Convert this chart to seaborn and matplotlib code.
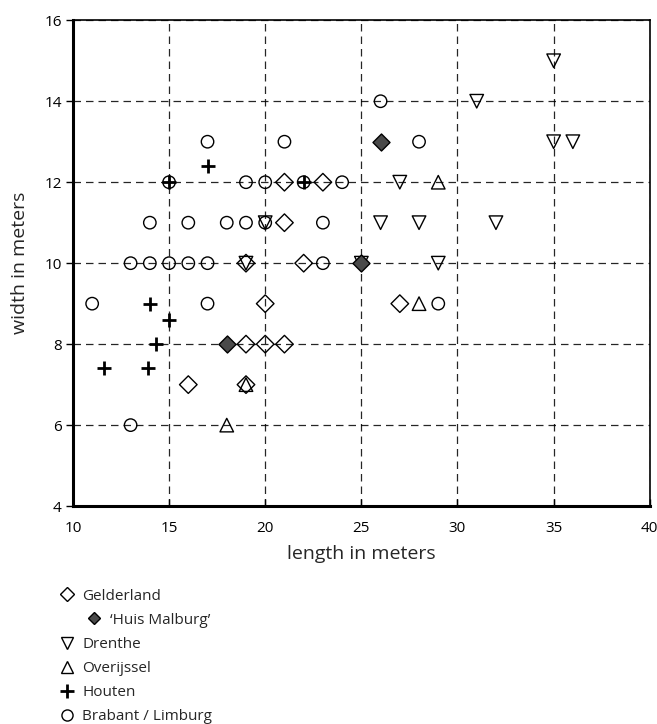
import numpy as np
import pandas as pd
import seaborn as sns
import matplotlib.pyplot as plt
from matplotlib.lines import Line2D
from matplotlib.offsetbox import DrawingArea

# %%
# House sizes (length, width in meters)
gelderland_x = [21, 23, 21, 19, 22, 20, 27, 19, 20, 21, 16, 19]
gelderland_y = [12, 12, 11, 10, 10, 9, 9, 8, 8, 8, 7, 7]

malburg_x = [26, 25, 18]
malburg_y = [13, 10, 8]

drenthe_x = [35, 31, 35, 36, 27, 20, 26, 28, 32, 19, 25, 29]
drenthe_y = [15, 14, 13, 13, 12, 11, 11, 11, 11, 10, 10, 10]

overijssel_x = [29, 28, 19, 18]
overijssel_y = [12, 9, 7, 6]

houten_x = [17, 15, 22, 14, 15, 14.3, 11.6, 13.9]
houten_y = [12.4, 12, 12, 9, 8.6, 8, 7.4, 7.4]

brabant_x = [26, 17, 21, 28, 15, 19, 20, 22, 24, 14, 16, 18, 19, 20, 23,
             13, 14, 15, 16, 17, 23, 11, 17, 29, 13]
brabant_y = [14, 13, 13, 13, 12, 12, 12, 12, 12, 11, 11, 11, 11, 11, 11,
             10, 10, 10, 10, 10, 10, 9, 9, 9, 6]

x_ticks = [10, 15, 20, 25, 30, 35, 40]
y_ticks = [4, 6, 8, 10, 12, 14, 16]

# %%
sns.set_theme(style='white')
plt.rcParams['font.family'] = ['Open Sans', 'DejaVu Sans']

fig = plt.figure(figsize=(6.57, 7.24), dpi=100)
ax = fig.add_axes([0.111, 0.301, 0.878, 0.671])

open_kw = dict(facecolor='none', edgecolor='black', linewidth=1.0, zorder=3)

groups = [
    ('Gelderland', gelderland_x, gelderland_y, 'D', 80, open_kw),
    ('Drenthe', drenthe_x, drenthe_y, 'v', 95, open_kw),
    ('Overijssel', overijssel_x, overijssel_y, '^', 95, open_kw),
    ('Brabant / Limburg', brabant_x, brabant_y, 'o', 80, open_kw),
]
for name, xs, ys, mk, size, kw in groups:
    df = pd.DataFrame({'length': xs, 'width': ys})
    sns.scatterplot(data=df, x='length', y='width', marker=mk, s=size, ax=ax, **kw)

df = pd.DataFrame({'length': malburg_x, 'width': malburg_y})
sns.scatterplot(data=df, x='length', y='width', marker='D', s=75, ax=ax,
                facecolor='#4a4a4a', edgecolor='black', linewidth=1.0, zorder=4)

df = pd.DataFrame({'length': houten_x, 'width': houten_y})
sns.scatterplot(data=df, x='length', y='width', marker='+', s=110, ax=ax,
                color='black', linewidth=2.0, zorder=4)

ax.set_xlim(10, 40)
ax.set_ylim(4, 16)
ax.set_xticks(x_ticks)
ax.set_yticks(y_ticks)
ax.grid(True, color='black', linestyle=(0, (6, 4)), linewidth=0.9, alpha=0.85)
ax.set_axisbelow(True)

for side in ['top', 'right']:
    ax.spines[side].set_linewidth(1.2)
    ax.spines[side].set_color('black')
for side in ['left', 'bottom']:
    ax.spines[side].set_linewidth(2.2)
    ax.spines[side].set_color('black')

ax.tick_params(axis='x', direction='in', length=5, width=1, colors='black',
               labelsize=11, pad=11, top=False, bottom=True)
ax.tick_params(axis='y', direction='out', length=5, width=1, colors='black',
               labelsize=11, pad=3, left=True)
ax.set_xlabel('length in meters', fontsize=14, labelpad=6)
ax.set_ylabel('width in meters', fontsize=14, labelpad=11)

# Legend below the axes
handles = [
    Line2D([], [], marker='D', ls='', mfc='none', mec='black', ms=7, mew=1),
    Line2D([], [], marker='D', ls='', mfc='#4a4a4a', mec='black', ms=6.5, mew=1),
    Line2D([], [], marker='v', ls='', mfc='none', mec='black', ms=9, mew=1),
    Line2D([], [], marker='^', ls='', mfc='none', mec='black', ms=9, mew=1),
    Line2D([], [], marker='+', ls='', color='black', ms=10, mew=2),
    Line2D([], [], marker='o', ls='', mfc='none', mec='black', ms=8, mew=1),
]
labels = ['Gelderland', "\u2018Huis Malburg\u2019", 'Drenthe', 'Overijssel',
          'Houten', 'Brabant / Limburg']
leg = fig.legend(handles, labels, loc='upper left', bbox_to_anchor=(0.093, 0.187),
                 frameon=False, fontsize=11, handlelength=0.8, handletextpad=0.6,
                 labelspacing=0.6, borderpad=0, borderaxespad=0)
# indent the Huis Malburg entry
col = leg._legend_handle_box.get_children()[0]
col.get_children()[1]._children.insert(0, DrawingArea(13, 1))

fig.savefig('out.png', dpi=100)
